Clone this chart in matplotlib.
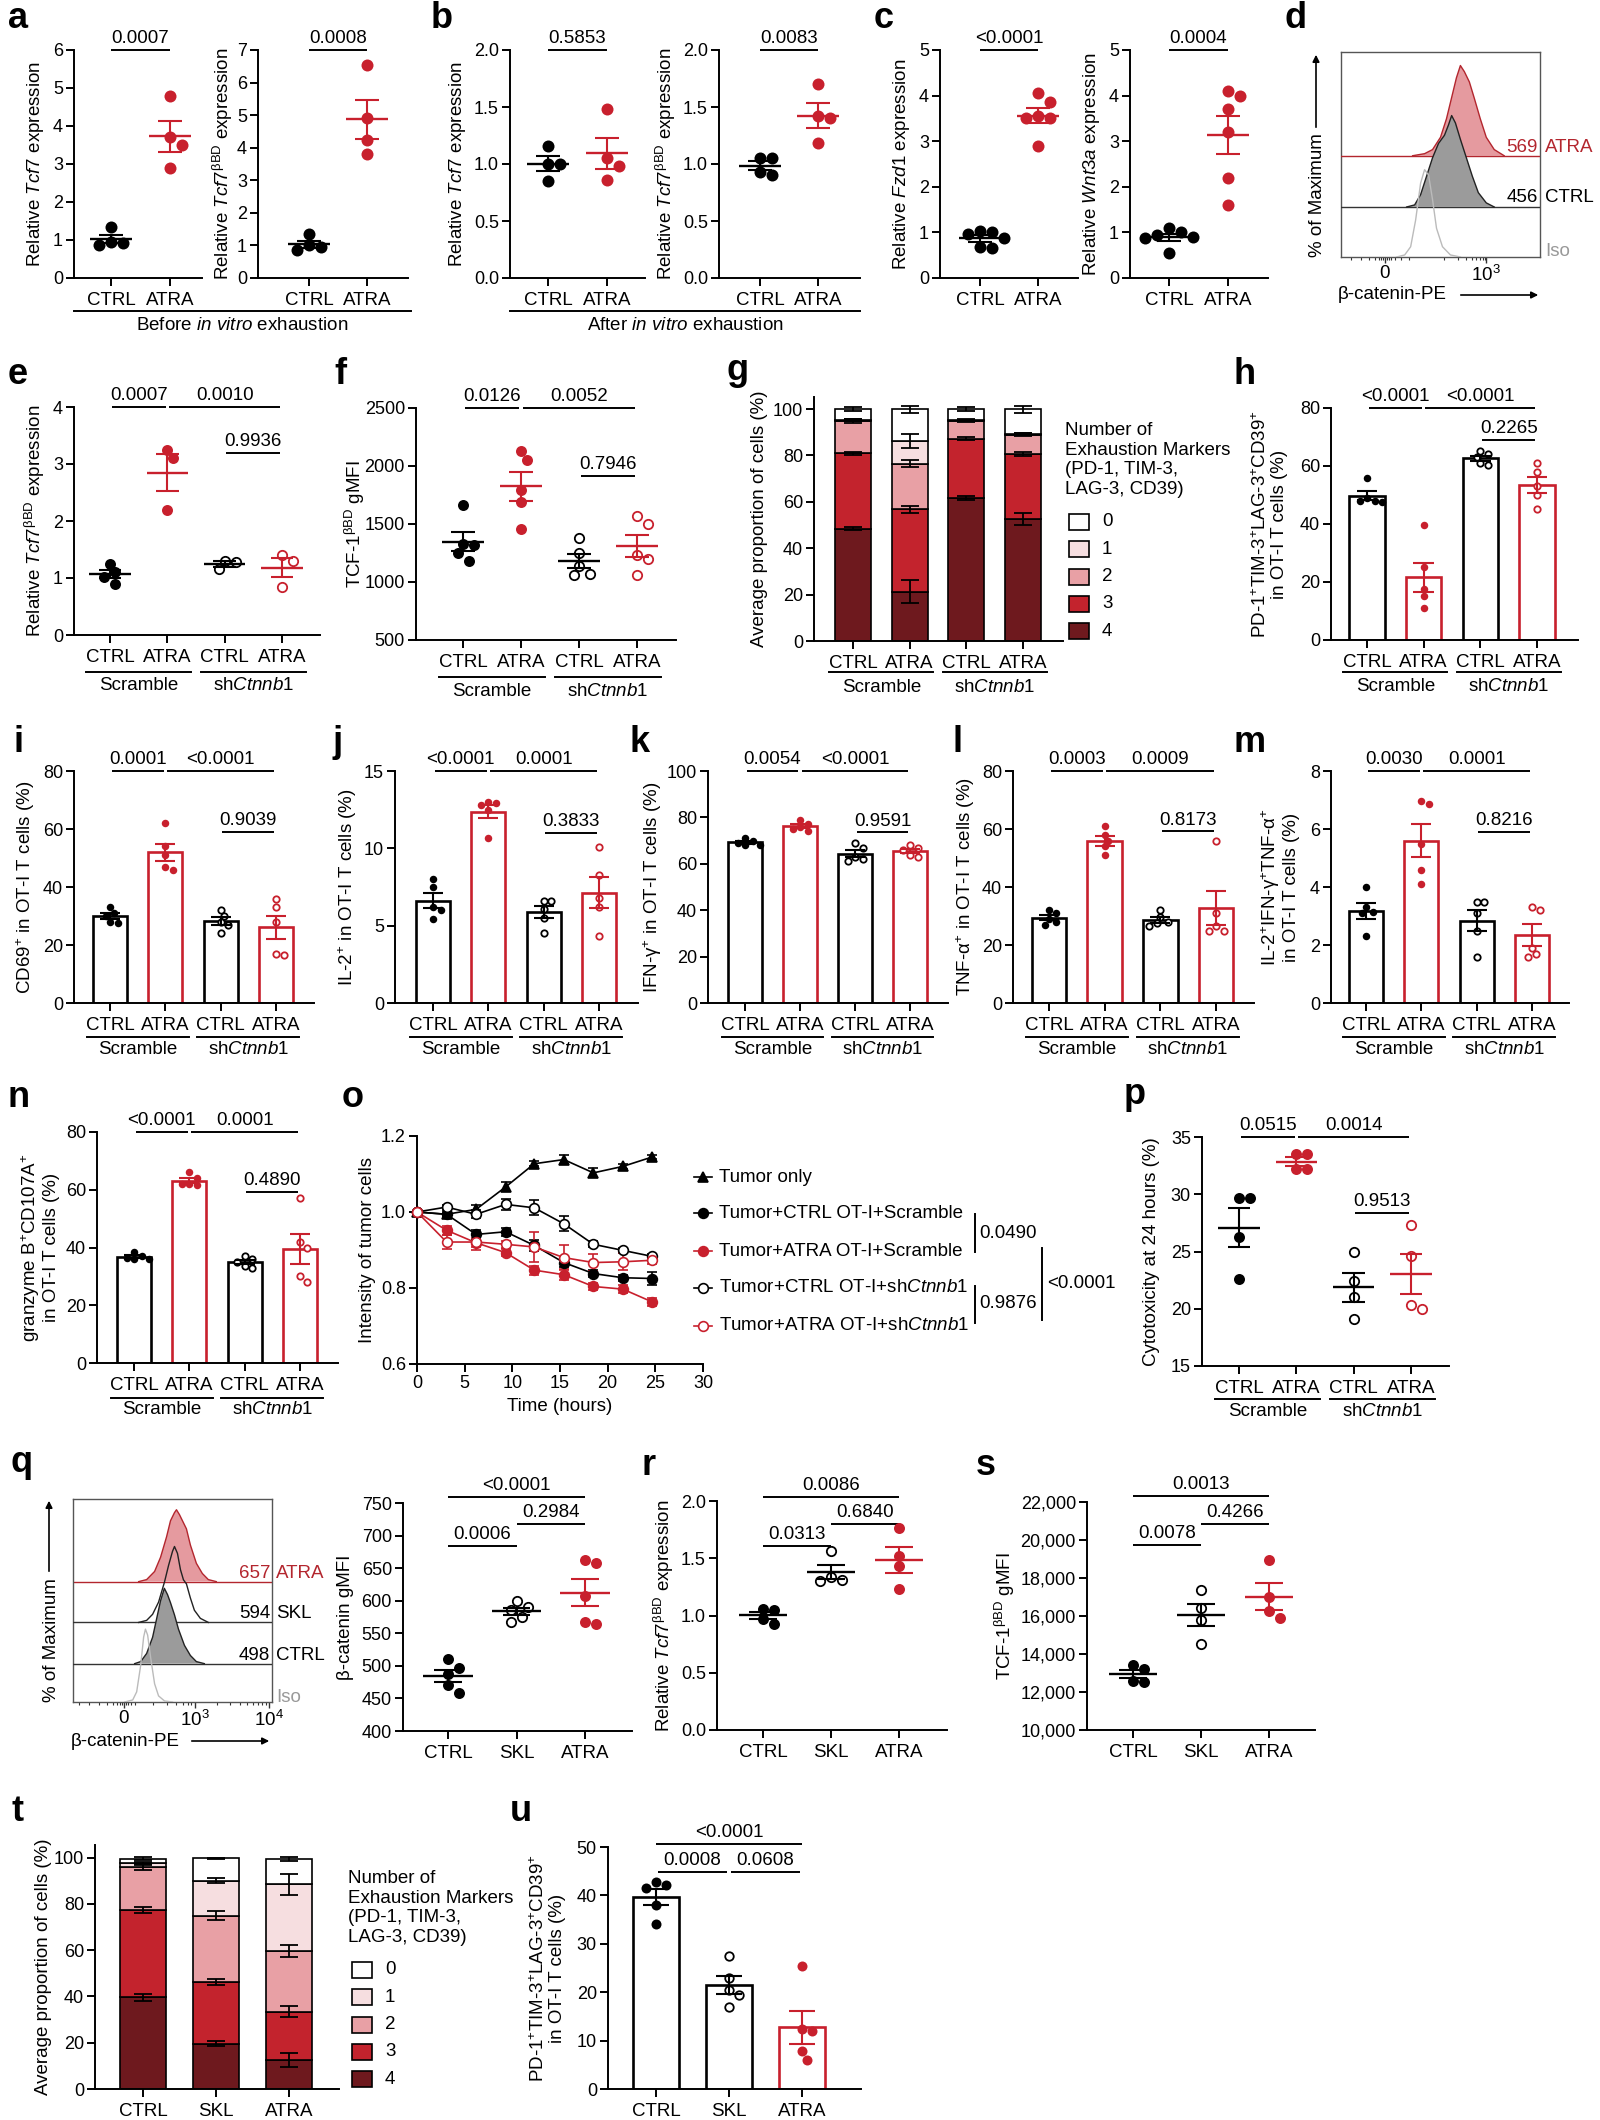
import matplotlib
matplotlib.use("Agg")
import matplotlib.pyplot as plt
import numpy as np
from matplotlib.lines import Line2D
from matplotlib.patches import Rectangle, FancyArrowPatch
from matplotlib.transforms import offset_copy

# ---------------- data ----------------
cats2 = ['CTRL', 'ATRA']
cats4 = ['CTRL', 'ATRA', 'CTRL', 'ATRA']
cats3 = ['CTRL', 'SKL', 'ATRA']

# a  before in vitro exhaustion
a1_ctrl = [1.35, 0.88, 0.92, 0.95]
a1_atra = [4.8, 3.7, 3.5, 2.9]
a2_ctrl = [1.35, 1.0, 0.85, 0.95]
a2_atra = [6.55, 4.9, 4.25, 3.8]
# b  after in vitro exhaustion
b1_ctrl = [1.16, 1.0, 1.0, 0.85]
b1_atra = [1.48, 1.05, 0.98, 0.86]
b2_ctrl = [1.05, 1.05, 0.93, 0.9]
b2_atra = [1.70, 1.42, 1.40, 1.18]
# c
c1_ctrl = [1.02, 0.97, 1.0, 0.68, 0.65, 0.88]
c1_atra = [4.05, 3.85, 3.55, 3.5, 3.5, 2.9]
c2_ctrl = [1.1, 1.0, 0.95, 0.9, 0.88, 0.55]
c2_atra = [4.1, 4.0, 3.7, 3.2, 2.2, 1.6]

# d  histograms (x as fraction of the plot box, height above baseline)
d_atra_x = [0.36, 0.42, 0.46, 0.50, 0.53, 0.56, 0.58, 0.60, 0.62, 0.645, 0.67, 0.70, 0.73, 0.77, 0.82]
d_atra_h = [0, 0.01, 0.03, 0.09, 0.18, 0.30, 0.38, 0.44, 0.41, 0.36, 0.28, 0.18, 0.09, 0.03, 0]
d_ctrl_x = [0.33, 0.37, 0.40, 0.43, 0.46, 0.49, 0.52, 0.54, 0.556, 0.575, 0.60, 0.63, 0.66, 0.69, 0.73, 0.77]
d_ctrl_h = [0, 0.01, 0.06, 0.15, 0.24, 0.31, 0.35, 0.40, 0.446, 0.41, 0.33, 0.24, 0.15, 0.07, 0.02, 0]
d_iso_x = [0.28, 0.32, 0.35, 0.375, 0.40, 0.42, 0.44, 0.46, 0.48, 0.51, 0.55, 0.60]
d_iso_h = [0, 0.01, 0.05, 0.18, 0.36, 0.426, 0.40, 0.28, 0.14, 0.05, 0.01, 0]
d_gmfi = ['569', '456']

# e  Tcf7 bBD, Scramble / shCtnnb1
e_vals = [[1.25, 1.1, 1.02, 0.9], [3.25, 3.1, 2.2], [1.15, 1.28, 1.3], [1.4, 1.3, 0.85]]
# f  TCF-1 bBD gMFI
f_vals = [[1660, 1330, 1320, 1250, 1180], [2130, 2050, 1790, 1690, 1460],
          [1380, 1250, 1140, 1070, 1060], [1570, 1500, 1230, 1200, 1060]]
# g  exhaustion markers (%), one list per marker number
g_n4 = [48.5, 21.2, 61.6, 52.7]
g_n3 = [32.4, 35.6, 25.6, 27.9]
g_n2 = [13.9, 19.7, 7.6, 8.3]
g_n1 = [0.5, 9.8, 0.5, 0.5]
g_n0 = [4.7, 13.7, 4.7, 10.6]
g_n4_sem = [0.7, 5.0, 1.0, 2.5]
g_n3_sem = [0.7, 1.5, 0.6, 1.0]
g_n2_sem = [0.7, 1.5, 0.5, 0.7]
g_n1_sem = [0.3, 3.0, 0.3, 0.4]
g_n0_sem = [0.8, 1.5, 0.8, 1.5]
# h
h_vals = [[56, 49, 48, 48, 47.5], [39.5, 25, 17.5, 15, 11],
          [65, 64, 63, 61, 60.5], [61, 58, 53, 50, 45]]
# i-n
i_vals = [[33, 31, 30, 28, 27.5], [62, 54, 51, 47, 46], [32, 30, 28, 27, 24], [36, 33, 28, 17, 16.5]]
j_vals = [[8.0, 7.5, 6.2, 6.0, 5.4], [13.0, 12.9, 12.8, 12.5, 10.7],
          [6.6, 6.6, 6.1, 5.5, 4.5], [10.1, 8.3, 6.8, 6.2, 4.3]]
k_vals = [[71, 70, 69, 68, 68], [79, 77, 76, 75, 74], [69, 67, 63, 62, 61], [68, 67, 66, 64, 63]]
l_vals = [[32, 31, 29, 28, 27], [61, 58, 56, 54, 51], [32, 29.5, 28, 27.5, 26.5], [56, 31, 26.5, 25, 25]]
m_vals = [[4.0, 3.3, 3.15, 3.1, 2.3], [6.95, 6.85, 5.5, 4.6, 4.1],
          [3.5, 3.5, 3.1, 2.5, 1.6], [3.3, 3.2, 1.9, 1.7, 1.6]]
n_vals = [[38.5, 37, 36.5, 36, 36], [66, 64, 62, 62, 61.5], [37, 36, 35, 33.5, 33], [57, 42, 40, 30, 28]]
# o  killing time course
o_time = [0, 3.1, 6.2, 9.3, 12.3, 15.4, 18.5, 21.6, 24.7]
o_tumor = [1.0, 0.994, 1.007, 1.066, 1.127, 1.138, 1.103, 1.12, 1.145]
o_tumor_sem = [0, 0.004, 0.012, 0.012, 0.006, 0.012, 0.012, 0.006, 0.006]
o_ctrl_scr = [1.0, 0.994, 0.941, 0.948, 0.912, 0.867, 0.838, 0.827, 0.825]
o_ctrl_scr_sem = [0, 0.008, 0.012, 0.01, 0.015, 0.012, 0.01, 0.008, 0.016]
o_atra_scr = [1.0, 0.952, 0.919, 0.893, 0.847, 0.835, 0.804, 0.797, 0.763]
o_atra_scr_sem = [0, 0.012, 0.012, 0.01, 0.012, 0.014, 0.008, 0.01, 0.01]
o_ctrl_sh = [1.0, 1.013, 0.994, 1.02, 1.011, 0.969, 0.915, 0.899, 0.883]
o_ctrl_sh_sem = [0, 0.006, 0.01, 0.015, 0.02, 0.02, 0.008, 0.006, 0.006]
o_atra_sh = [1.0, 0.921, 0.921, 0.915, 0.908, 0.88, 0.867, 0.869, 0.873]
o_atra_sh_sem = [0, 0.018, 0.022, 0.01, 0.04, 0.032, 0.022, 0.022, 0.01]
o_labels = ['Tumor only', 'Tumor+CTRL OT-I+Scramble', 'Tumor+ATRA OT-I+Scramble',
            r'Tumor+CTRL OT-I+sh$\mathit{Ctnnb1}$', r'Tumor+ATRA OT-I+sh$\mathit{Ctnnb1}$']
# p
p_vals = [[29.7, 29.7, 26.3, 22.6], [33.5, 33.5, 32.2, 32.2], [25.0, 22.4, 21.0, 19.1], [27.3, 24.6, 20.0, 20.3]]
# q histograms
q_atra_x = [0.33, 0.37, 0.41, 0.44, 0.47, 0.49, 0.51, 0.52, 0.535, 0.55, 0.57, 0.59, 0.62, 0.65, 0.68, 0.72]
q_atra_h = [0, 0.01, 0.05, 0.12, 0.22, 0.30, 0.34, 0.354, 0.33, 0.30, 0.26, 0.18, 0.09, 0.04, 0.01, 0]
q_skl_x = [0.33, 0.37, 0.40, 0.43, 0.46, 0.48, 0.50, 0.51, 0.525, 0.54, 0.555, 0.57, 0.59, 0.61, 0.64, 0.68]
q_skl_h = [0, 0.01, 0.04, 0.10, 0.20, 0.28, 0.35, 0.374, 0.34, 0.26, 0.21, 0.19, 0.12, 0.06, 0.02, 0]
q_ctrl_x = [0.31, 0.34, 0.37, 0.40, 0.42, 0.44, 0.459, 0.475, 0.49, 0.51, 0.53, 0.56, 0.59, 0.62, 0.66]
q_ctrl_h = [0, 0.01, 0.05, 0.13, 0.22, 0.31, 0.371, 0.34, 0.30, 0.24, 0.17, 0.09, 0.04, 0.01, 0]
q_iso_x = [0.26, 0.30, 0.32, 0.34, 0.355, 0.364, 0.375, 0.39, 0.41, 0.43, 0.46, 0.50]
q_iso_h = [0, 0.01, 0.05, 0.18, 0.32, 0.359, 0.33, 0.22, 0.09, 0.03, 0.005, 0]
q_gmfi = ['657', '594', '498']
q_vals = [[510, 497, 488, 470, 458], [600, 590, 585, 575, 568], [663, 658, 608, 568, 565]]
# r, s
r_vals = [[1.06, 1.05, 0.97, 0.93], [1.56, 1.34, 1.31, 1.30], [1.76, 1.52, 1.43, 1.23]]
s_vals = [[13400, 13200, 12600, 12550], [17390, 16430, 15810, 14550], [18970, 17000, 16250, 15870]]
# t
t_n4 = [39.6, 19.6, 12.4]
t_n3 = [37.8, 26.7, 21.1]
t_n2 = [18.4, 28.7, 26.1]
t_n1 = [1.8, 15.1, 28.9]
t_n0 = [2.0, 9.6, 10.9]
t_n4_sem = [1.5, 1.0, 3.0]
t_n3_sem = [1.2, 1.2, 2.3]
t_n2_sem = [1.0, 1.8, 2.5]
t_n1_sem = [0.5, 1.0, 4.5]
t_n0_sem = [0.8, 0.3, 1.0]
# u
u_vals = [[42.8, 42.2, 41.5, 38, 34], [27.5, 23, 20.5, 19.5, 17], [25.5, 12.5, 12, 7.8, 6]]

# ---------------- style ----------------
W, H = 1600, 2120
RED = '#C8202D'
STACK = ['#FFFFFF', '#F6DEE0', '#E8A0A5', '#C3232D', '#6E191E']   # 0..4 markers
LIGHT = '#E59A9F'
DRED = '#B3262E'
FS = 13.5

plt.rcParams['font.family'] = ['Liberation Sans', 'DejaVu Sans']
plt.rcParams['mathtext.fontset'] = 'custom'
plt.rcParams['mathtext.rm'] = 'Liberation Sans'
plt.rcParams['mathtext.it'] = 'Liberation Sans:italic'
plt.rcParams['mathtext.bf'] = 'Liberation Sans:bold'
plt.rcParams['font.size'] = FS
plt.rcParams['axes.linewidth'] = 1.4

fig = plt.figure(figsize=(W / 100, H / 100), dpi=100)


def px_axes(x0, y0, x1, y1):
    return fig.add_axes([x0 / W, 1 - y1 / H, (x1 - x0) / W, (y1 - y0) / H])


def ftext(x, y, s, **kw):
    kw.setdefault('fontsize', FS)
    return fig.text(x / W, 1 - y / H, s, **kw)


def fline(xs, ys, **kw):
    kw.setdefault('color', 'black')
    kw.setdefault('lw', 1.4)
    fig.add_artist(Line2D([x / W for x in xs], [1 - y / H for y in ys],
                          transform=fig.transFigure, **kw))


def farrow(p0, p1):
    fig.add_artist(FancyArrowPatch((p0[0] / W, 1 - p0[1] / H), (p1[0] / W, 1 - p1[1] / H),
                                   transform=fig.transFigure, arrowstyle='-|>',
                                   mutation_scale=10, lw=1.2, color='black'))


def letter(ch, x, y):
    ftext(x, y, ch, fontsize=26, fontweight='bold', va='baseline', ha='left')


def cat_axes(spine, cats, end, top, bottom, ylim, yticks, labels, yticklabels=None):
    ax = px_axes(spine, top, end, bottom)
    n = len(cats)
    unit = (cats[-1] - cats[0]) / (n - 1)
    ax.set_xlim(-(cats[0] - spine) / unit, n - 1 + (end - cats[-1]) / unit)
    ax.set_ylim(*ylim)
    ax.set_yticks(yticks)
    if yticklabels is not None:
        ax.set_yticklabels(yticklabels)
    ax.set_xticks(range(n))
    ax.set_xticklabels(labels, fontsize=FS)
    for s in ['top', 'right']:
        ax.spines[s].set_visible(False)
    ax.tick_params(axis='y', direction='out', length=6, width=1.4, labelsize=13, pad=2)
    ax.tick_params(axis='x', direction='out', length=6, width=1.4, pad=4)
    return ax


def ylab(ax, text, x):
    b = ax.get_position()
    fig.text(x / W, b.y0 + b.height / 2, text, rotation=90, ha='center', va='center',
             fontsize=FS, multialignment='center', linespacing=1.1)


def swarm(ax, i, vals, d):
    inv = ax.transData.inverted()
    pts = ax.transData.transform(np.column_stack([np.full(len(vals), float(i)), vals]))
    placed, out = [], np.zeros(len(vals))
    for k in np.argsort(vals)[::-1]:
        px, py = pts[k]
        for step in [0, 1, -1, 2, -2, 3, -3, 4, -4]:
            cx = px + step * d * 0.5
            if all((cx - qx) ** 2 + (py - qy) ** 2 >= (0.92 * d) ** 2 for qx, qy in placed):
                break
        placed.append((cx, py))
        out[k] = inv.transform((cx, py))[0]
    return out


def draw_groups(ax, groups, colors, hollow, d, bars=False, mean_hw=0.36, cap_hw=0.2):
    for i, (vals, c, h) in enumerate(zip(groups, colors, hollow)):
        vals = np.asarray(vals, float)
        m = vals.mean()
        se = vals.std(ddof=1) / np.sqrt(len(vals))
        if bars:
            y0 = ax.get_ylim()[0]
            ax.bar(i, m - y0, bottom=y0, width=0.62, facecolor='white', edgecolor=c,
                   linewidth=1.9, zorder=2)
        xs = swarm(ax, i, vals, d)
        dpt = d * 72 / 100
        if h:
            ax.scatter(xs, vals, s=(dpt * 0.85) ** 2, facecolors='white', edgecolors=c,
                       linewidths=1.3, zorder=4, clip_on=False)
        else:
            ax.scatter(xs, vals, s=dpt ** 2, color=c, linewidths=0, zorder=4, clip_on=False)
        if not bars:
            ax.hlines(m, i - mean_hw, i + mean_hw, colors=c, lw=1.7, zorder=5)
        ax.vlines(i, m - se, m + se, colors=c, lw=1.5, zorder=5)
        ax.hlines([m - se, m + se], i - cap_hw, i + cap_hw, colors=c, lw=1.5, zorder=5)


def bracket(ax, i, j, y, label, shrink=0.03):
    ax.plot([i + shrink, j - shrink], [y, y], color='black', lw=1.4, clip_on=False,
            solid_capstyle='butt')
    ax.annotate(label, ((i + j) / 2, y), xytext=(0, 2), textcoords='offset points',
                ha='center', va='bottom', fontsize=FS, annotation_clip=False)


def group(ax, i, j, label, line_dy=34, text_dy=48, ext=0.42):
    tl = offset_copy(ax.get_xaxis_transform(), fig=fig, x=0, y=-line_dy, units='dots')
    ax.plot([i - ext, j + ext], [0, 0], transform=tl, color='black', lw=1.4, clip_on=False)
    tt = offset_copy(ax.get_xaxis_transform(), fig=fig, x=0, y=-text_dy, units='dots')
    ax.text((i + j) / 2, 0, label, transform=tt, ha='center', va='center', fontsize=FS)


def stacked(ax, levels, sems):
    x = np.arange(len(levels[0]))
    bottom = np.zeros(len(x))
    for lev, (vals, se) in zip([4, 3, 2, 1, 0], zip(levels, sems)):
        vals = np.asarray(vals, float)
        ax.bar(x, vals, bottom=bottom, width=0.63, facecolor=STACK[lev],
               edgecolor='black', linewidth=1.2, zorder=2)
        ax.errorbar(x, bottom + vals, yerr=se, fmt='none', ecolor='black',
                    elinewidth=1.3, capsize=6.5, capthick=1.3, zorder=3)
        bottom = bottom + vals


def stack_legend(x, y):
    ftext(x, y, 'Number of\nExhaustion Markers\n(PD-1, TIM-3,\nLAG-3, CD39)',
          ha='left', va='top', linespacing=1.2)
    for k in range(5):
        cy = y + 100 + k * 27.3
        fig.add_artist(Rectangle(((x + 4) / W, 1 - (cy + 8) / H), 20 / W, 16 / H,
                                 transform=fig.transFigure, facecolor=STACK[k],
                                 edgecolor='black', lw=1.2))
        ftext(x + 37, cy, str(k), ha='left', va='center')


def hist_box(x0, y0, x1, y1, ticks, ticklabels):
    ax = px_axes(x0, y0, x1, y1)
    ax.set_xlim(0, 1)
    ax.set_ylim(0, 1)
    ax.set_yticks([])
    ax.set_xticks(ticks)
    ax.set_xticklabels(ticklabels, fontsize=FS)
    for s in ax.spines.values():
        s.set_linewidth(1.0)
        s.set_color('#555555')
    ax.tick_params(axis='x', length=4, width=1.0, pad=2, color='#333333')
    ax.tick_params(axis='x', which='minor', length=2.5, width=0.8, color='#333333')
    return ax


def hist(ax, xs, hs, base, face, edge, z=2):
    xs = np.asarray(xs)
    hs = np.asarray(hs)
    if face is not None:
        ax.fill_between(xs, base, base + hs, facecolor=face, edgecolor='none', zorder=z)
    ax.plot(xs, base + hs, color=edge, lw=1.0, zorder=z + 1)


# ================= row 1 : a b c d =================
letter('a', 8, 28)
letter('b', 431, 28)
letter('c', 874, 28)
letter('d', 1285, 28)

row1 = [
    (74, [111, 170], 202, (0, 6), list(range(7)), None, a1_ctrl, a1_atra,
     r'Relative $\mathit{Tcf7}$ expression', 36, '0.0007'),
    (258, [309, 367], 408, (0, 7), list(range(8)), None, a2_ctrl, a2_atra,
     r'Relative $\mathit{Tcf7}^{\mathrm{\beta BD}}$ expression', 223, '0.0008'),
    (510, [548, 607], 645, (0, 2), [0, 0.5, 1, 1.5, 2], ['0.0', '0.5', '1.0', '1.5', '2.0'],
     b1_ctrl, b1_atra, r'Relative $\mathit{Tcf7}$ expression', 457, '0.5853'),
    (719, [760, 818], 860, (0, 2), [0, 0.5, 1, 1.5, 2], ['0.0', '0.5', '1.0', '1.5', '2.0'],
     b2_ctrl, b2_atra, r'Relative $\mathit{Tcf7}^{\mathrm{\beta BD}}$ expression', 666, '0.0083'),
    (940, [980, 1038], 1078, (0, 5), list(range(6)), None, c1_ctrl, c1_atra,
     r'Relative $\mathit{Fzd1}$ expression', 902, '<0.0001'),
    (1130, [1169, 1228], 1268, (0, 5), list(range(6)), None, c2_ctrl, c2_atra,
     r'Relative $\mathit{Wnt3a}$ expression', 1092, '0.0004'),
]
for spine, cats, end, yl, yt, ytl, ctrl, atra, lab, lx, pv in row1:
    ax = cat_axes(spine, cats, end, 50, 278, yl, yt, cats2, ytl)
    draw_groups(ax, [ctrl, atra], ['black', RED], [False, False], 12)
    bracket(ax, 0, 1, yl[1], pv, shrink=0)
    ylab(ax, lab, lx)

fline([74, 411], [311, 311])
ftext(242, 326, r'Before $\mathit{in\ vitro}$ exhaustion', ha='center', va='center')
fline([510, 860], [311, 311])
ftext(685, 326, r'After $\mathit{in\ vitro}$ exhaustion', ha='center', va='center')

# d histogram
axd = hist_box(1341, 52, 1540, 257, [0.22, 0.73], ['0', r'$10^3$'])
axd.set_xticks([0.05, 0.1, 0.14, 0.17, 0.19, 0.2, 0.21, 0.23, 0.24, 0.25, 0.27, 0.3, 0.34,
                0.52, 0.59, 0.63, 0.66, 0.68, 0.70, 0.715, 0.725], minor=True)
axd.axhline(0.494, color=DRED, lw=1.0, zorder=3)
hist(axd, d_atra_x, d_atra_h, 0.494, LIGHT, DRED, z=2)
axd.axhline(0.244, color='#333333', lw=1.0, zorder=4)
hist(axd, d_ctrl_x, d_ctrl_h, 0.244, '#9B9B9B', '#222222', z=4)
hist(axd, d_iso_x, d_iso_h, 0.0, None, '#BBBBBB', z=6)
ftext(1538, 147, d_gmfi[0], color=DRED, ha='right', va='center')
ftext(1545, 147, 'ATRA', color=DRED, ha='left', va='center')
ftext(1538, 198, d_gmfi[1], ha='right', va='center')
ftext(1545, 198, 'CTRL', ha='left', va='center')
ftext(1545, 252, 'Iso', color='#999999', ha='left', va='center')
ftext(1338, 295, 'β-catenin-PE', ha='left', va='center')
farrow((1458, 295), (1541, 295))
ftext(1318, 257, '% of Maximum', rotation=90, ha='center', va='bottom')
farrow((1316, 130), (1316, 52))

# ================= row 2 : e f g h =================
letter('e', 8, 384)
letter('f', 334, 384)
letter('g', 727, 380)
letter('h', 1233, 384)

grp_colors = ['black', RED, 'black', RED]
grp_hollow = [False, False, True, True]

ax = cat_axes(74, [110, 167, 224, 282], 320, 407, 635, (0, 4), list(range(5)), cats4)
draw_groups(ax, e_vals, grp_colors, grp_hollow, 11)
bracket(ax, 0, 1, 4, '0.0007')
bracket(ax, 1, 3, 4, '0.0010')
bracket(ax, 2, 3, 3.19, '0.9936')
group(ax, 0, 1, 'Scramble', 37, 50)
group(ax, 2, 3, r'sh$\mathit{Ctnnb1}$', 37, 50)
ylab(ax, r'Relative $\mathit{Tcf7}^{\mathrm{\beta BD}}$ expression', 35)

ax = cat_axes(416, [463, 521, 579, 637], 676, 408, 640, (500, 2500),
              [500, 1000, 1500, 2000, 2500], cats4)
draw_groups(ax, f_vals, grp_colors, grp_hollow, 11)
bracket(ax, 0, 1, 2500, '0.0126')
bracket(ax, 1, 3, 2500, '0.0052')
bracket(ax, 2, 3, 1915, '0.7946')
group(ax, 0, 1, 'Scramble', 37, 52)
group(ax, 2, 3, r'sh$\mathit{Ctnnb1}$', 37, 52)
ylab(ax, r'TCF-1$^{\mathrm{\beta BD}}$ gMFI', 355)

ax = cat_axes(814, [853, 909, 967, 1023], 1063, 397, 641, (0, 105.2),
              list(range(0, 101, 20)), cats4)
stacked(ax, [g_n4, g_n3, g_n2, g_n1, g_n0], [g_n4_sem, g_n3_sem, g_n2_sem, g_n1_sem, g_n0_sem])
group(ax, 0, 1, 'Scramble', 31, 46)
group(ax, 2, 3, r'sh$\mathit{Ctnnb1}$', 31, 46)
ylab(ax, 'Average proportion of cells (%)', 760)
stack_legend(1065, 422)

ax = cat_axes(1331, [1367, 1423, 1481, 1537], 1578, 408, 640, (0, 80),
              list(range(0, 81, 20)), cats4)
draw_groups(ax, h_vals, grp_colors, grp_hollow, 7.5, bars=True, cap_hw=0.18)
bracket(ax, 0, 1, 80, '<0.0001')
bracket(ax, 1, 3, 80, '<0.0001')
bracket(ax, 2, 3, 69, '0.2265')
group(ax, 0, 1, 'Scramble', 32, 47)
group(ax, 2, 3, r'sh$\mathit{Ctnnb1}$', 32, 47)
PD_LAB = 'PD-1$^{+}$TIM-3$^{+}$LAG-3$^{+}$CD39$^{+}$\nin OT-I T cells (%)'
ylab(ax, PD_LAB, 1270)

# ================= row 3 : i j k l m =================
letter('i', 13, 752)
letter('j', 333, 752)
letter('k', 629, 752)
letter('l', 953, 752)
letter('m', 1234, 752)

row3 = [
    (74, [110, 166, 220, 276], 314, (0, 80), list(range(0, 81, 20)), i_vals,
     ('0.0001', '<0.0001', '0.9039'), 59, 'CD69$^{+}$ in OT-I T cells (%)', 26),
    (395, [433, 489, 543, 599], 638, (0, 15), [0, 5, 10, 15], j_vals,
     ('<0.0001', '0.0001', '0.3833'), 11.0, 'IL-2$^{+}$ in OT-I T cells (%)', 348),
    (708, [745, 800, 855, 910], 948, (0, 100), list(range(0, 101, 20)), k_vals,
     ('0.0054', '<0.0001', '0.9591'), 73.5, 'IFN-γ$^{+}$ in OT-I T cells (%)', 653),
    (1013, [1049, 1105, 1161, 1216], 1254, (0, 80), list(range(0, 81, 20)), l_vals,
     ('0.0003', '0.0009', '0.8173'), 59.2, 'TNF-α$^{+}$ in OT-I T cells (%)', 966),
    (1331, [1366, 1421, 1477, 1532], 1569, (0, 8), [0, 2, 4, 6, 8], m_vals,
     ('0.0030', '0.0001', '0.8216'), 5.9,
     'IL-2$^{+}$IFN-γ$^{+}$TNF-α$^{+}$\nin OT-I T cells (%)', 1280),
]
for spine, cats, end, yl, yt, vals, pvs, py3, lab, lx in row3:
    ax = cat_axes(spine, cats, end, 771, 1003, yl, yt, cats4)
    draw_groups(ax, vals, grp_colors, grp_hollow, 7.5, bars=True, cap_hw=0.18)
    bracket(ax, 0, 1, yl[1], pvs[0])
    bracket(ax, 1, 3, yl[1], pvs[1])
    bracket(ax, 2, 3, py3, pvs[2])
    group(ax, 0, 1, 'Scramble', 34, 47)
    group(ax, 2, 3, r'sh$\mathit{Ctnnb1}$', 34, 47)
    ylab(ax, lab, lx)

# ================= row 4 : n o p =================
letter('n', 8, 1107)
letter('o', 342, 1107)
letter('p', 1124, 1104)

ax = cat_axes(97, [134, 190, 245, 300], 338, 1132, 1363, (0, 80), list(range(0, 81, 20)), cats4)
draw_groups(ax, n_vals, grp_colors, grp_hollow, 7.5, bars=True, cap_hw=0.18)
bracket(ax, 0, 1, 80, '<0.0001')
bracket(ax, 1, 3, 80, '0.0001')
bracket(ax, 2, 3, 59.2, '0.4890')
group(ax, 0, 1, 'Scramble', 35, 47)
group(ax, 2, 3, r'sh$\mathit{Ctnnb1}$', 35, 47)
ylab(ax, 'granzyme B$^{+}$CD107A$^{+}$\nin OT-I T cells (%)', 40)

axo = px_axes(417, 1136, 703, 1364)
axo.set_xlim(0, 30)
axo.set_ylim(0.6, 1.2)
axo.set_xticks(range(0, 31, 5))
axo.set_yticks([0.6, 0.8, 1.0, 1.2])
axo.set_yticklabels(['0.6', '0.8', '1.0', '1.2'])
for s in ['top', 'right']:
    axo.spines[s].set_visible(False)
axo.tick_params(direction='out', length=6, width=1.4, labelsize=13, pad=2)
o_series = [(o_tumor, o_tumor_sem, '^', 'black', 'black'),
            (o_ctrl_scr, o_ctrl_scr_sem, 'o', 'black', 'black'),
            (o_atra_scr, o_atra_scr_sem, 'o', RED, RED),
            (o_ctrl_sh, o_ctrl_sh_sem, 'o', 'black', 'white'),
            (o_atra_sh, o_atra_sh_sem, 'o', RED, 'white')]
for yv, se, mk, c, fc in o_series:
    axo.errorbar(o_time, yv, yerr=se, color=c, marker=mk, markersize=7, markerfacecolor=fc,
                 markeredgecolor=c, markeredgewidth=1.2, lw=1.2, capsize=3.5, capthick=1.2,
                 elinewidth=1.2, clip_on=False, zorder=3)
axo.set_xlabel('Time (hours)', fontsize=FS, labelpad=4)
ylab(axo, 'Intensity of tumor cells', 367)

leg_y = [1177, 1213, 1251, 1288, 1326]
for (yv, se, mk, c, fc), lab, yy in zip(o_series, o_labels, leg_y):
    fline([694, 712], [yy, yy], color=c, lw=1.2)
    fig.add_artist(Line2D([703 / W], [1 - yy / H], transform=fig.transFigure, marker=mk,
                          markersize=7, color=c, markerfacecolor=fc, markeredgewidth=1.2))
    ftext(719, yy, lab, ha='left', va='center')
fline([975, 975], [1214, 1252])
ftext(979, 1233, '0.0490', ha='left', va='center')
fline([975, 975], [1286, 1323])
ftext(979, 1304, '0.9876', ha='left', va='center')
fline([1042, 1042], [1248, 1320])
ftext(1047, 1283, '<0.0001', ha='left', va='center')

ax = cat_axes(1202, [1239, 1296, 1354, 1411], 1449, 1137, 1366, (15, 35),
              [15, 20, 25, 30, 35], cats4)
draw_groups(ax, p_vals, grp_colors, grp_hollow, 11)
bracket(ax, 0, 1, 35, '0.0515')
bracket(ax, 1, 3, 35, '0.0014')
bracket(ax, 2, 3, 28.4, '0.9513')
group(ax, 0, 1, 'Scramble', 33, 46)
group(ax, 2, 3, r'sh$\mathit{Ctnnb1}$', 33, 46)
ylab(ax, 'Cytotoxicity at 24 hours (%)', 1152)

# ================= row 5 : q r s =================
letter('q', 10, 1472)
letter('r', 642, 1475)
letter('s', 976, 1475)

axq = hist_box(73, 1499, 272, 1702, [0.256, 0.613, 0.985], ['0', r'$10^3$', r'$10^4$'])
minor_q = [0.03, 0.08, 0.13, 0.17, 0.2, 0.22, 0.235, 0.245, 0.265, 0.275, 0.29, 0.31]
minor_q += list(0.613 + 0.372 * np.log10(np.arange(2, 10)))
minor_q += [0.40, 0.47, 0.52, 0.555, 0.58, 0.595]
axq.set_xticks(minor_q, minor=True)
axq.axhline(0.593, color=DRED, lw=1.0, zorder=2)
hist(axq, q_atra_x, q_atra_h, 0.593, LIGHT, DRED, z=2)
axq.axhline(0.392, color='#333333', lw=1.0, zorder=3)
hist(axq, q_skl_x, q_skl_h, 0.392, None, '#222222', z=3)
axq.axhline(0.189, color='#333333', lw=1.0, zorder=4)
hist(axq, q_ctrl_x, q_ctrl_h, 0.189, '#9B9B9B', '#222222', z=4)
hist(axq, q_iso_x, q_iso_h, 0.0, None, '#BBBBBB', z=6)
ftext(270, 1574, q_gmfi[0], color=DRED, ha='right', va='center')
ftext(276, 1574, 'ATRA', color=DRED, ha='left', va='center')
ftext(270, 1614, q_gmfi[1], ha='right', va='center')
ftext(276, 1614, 'SKL', ha='left', va='center')
ftext(270, 1655, q_gmfi[2], ha='right', va='center')
ftext(276, 1655, 'CTRL', ha='left', va='center')
ftext(276, 1697, 'Iso', color='#999999', ha='left', va='center')
ftext(71, 1741, 'β-catenin-PE', ha='left', va='center')
farrow((189, 1741), (272, 1741))
ftext(51, 1702, '% of Maximum', rotation=90, ha='center', va='bottom')
farrow((49, 1574), (49, 1498))

c3 = ['black', 'black', RED]
h3 = [False, True, False]
ax = cat_axes(403, [448, 516, 585], 632, 1503, 1731, (400, 750), list(range(400, 751, 50)), cats3)
draw_groups(ax, q_vals, c3, h3, 11)
bracket(ax, 0, 2, 759, '<0.0001', shrink=0)
bracket(ax, 1, 2, 718, '0.2984', shrink=0)
bracket(ax, 0, 1, 684, '0.0006', shrink=0)
ylab(ax, 'β-catenin gMFI', 345)

ax = cat_axes(717, [763, 832, 899], 947, 1501, 1730, (0, 2), [0, 0.5, 1, 1.5, 2], cats3,
              ['0.0', '0.5', '1.0', '1.5', '2.0'])
draw_groups(ax, r_vals, c3, h3, 11)
bracket(ax, 0, 2, 2.035, '0.0086', shrink=0)
bracket(ax, 1, 2, 1.80, '0.6840', shrink=0)
bracket(ax, 0, 1, 1.61, '0.0313', shrink=0)
ylab(ax, r'Relative $\mathit{Tcf7}^{\mathrm{\beta BD}}$ expression', 664)

s_ticks = list(range(10000, 22001, 2000))
ax = cat_axes(1087, [1133, 1201, 1269], 1315, 1502, 1730, (10000, 22000), s_ticks, cats3,
              ['{:,}'.format(v) for v in s_ticks])
draw_groups(ax, s_vals, c3, h3, 11)
bracket(ax, 0, 2, 22316, '0.0013', shrink=0)
bracket(ax, 1, 2, 20842, '0.4266', shrink=0)
bracket(ax, 0, 1, 19737, '0.0078', shrink=0)
ylab(ax, r'TCF-1$^{\mathrm{\beta BD}}$ gMFI', 1005)

# ================= row 6 : t u =================
letter('t', 11, 1821)
letter('u', 510, 1821)

ax = cat_axes(95, [143, 216, 289], 339, 1845, 2089, (0, 105.5), list(range(0, 101, 20)), cats3)
stacked(ax, [t_n4, t_n3, t_n2, t_n1, t_n0], [t_n4_sem, t_n3_sem, t_n2_sem, t_n1_sem, t_n0_sem])
ylab(ax, 'Average proportion of cells (%)', 44)
stack_legend(348, 1870)

ax = cat_axes(608, [656, 729, 802], 861, 1847, 2089, (0, 50), list(range(0, 51, 10)), cats3)
draw_groups(ax, u_vals, c3, h3, 10, bars=True, cap_hw=0.18)
bracket(ax, 0, 2, 50.6, '<0.0001', shrink=0)
bracket(ax, 0, 1, 44.8, '0.0008')
bracket(ax, 1, 2, 44.8, '0.0608')
ylab(ax, PD_LAB, 548)

fig.savefig('out.png', dpi=100)
